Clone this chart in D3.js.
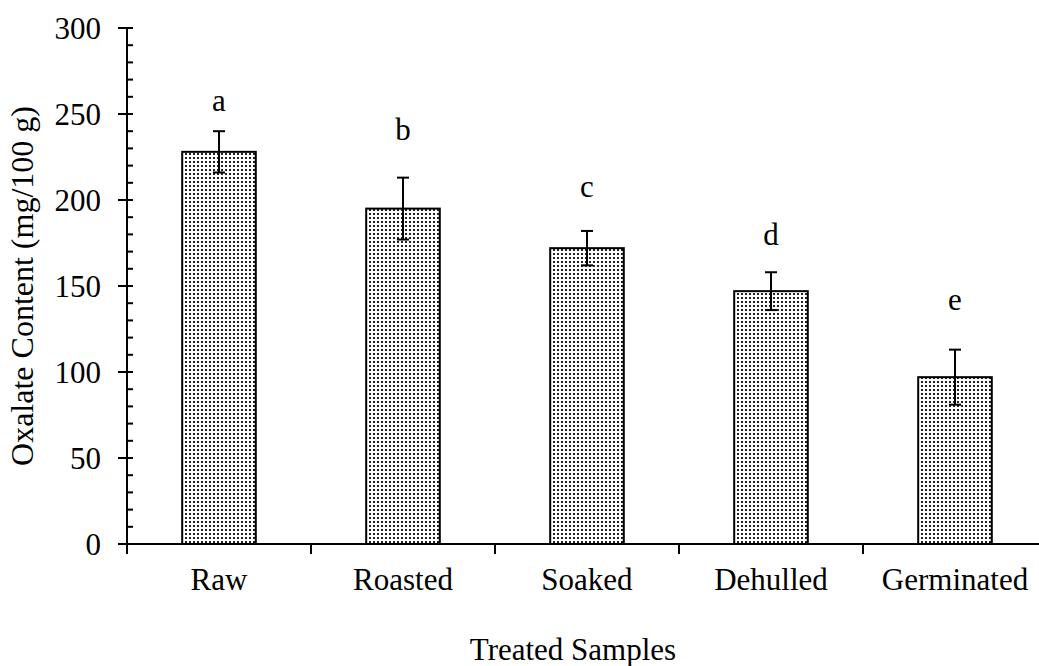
<!DOCTYPE html>
<html>
<head>
<meta charset="utf-8">
<script src="https://cdn.jsdelivr.net/npm/d3@7/dist/d3.min.js"></script>
<style>
  html, body { margin: 0; padding: 0; background: #fff; }
  svg { display: block; }
  text { font-family: "Liberation Serif", "Times New Roman", serif; fill: #000; }
</style>
</head>
<body>
<svg id="chart" width="1039" height="666"></svg>
<script>
// Oxalate content of treated samples (mg/100 g)
const categories = ["Raw", "Roasted", "Soaked", "Dehulled", "Germinated"];
const means = [228, 195, 172, 147, 97];
const errors = [12, 18, 10, 11, 16];
const letters = ["a", "b", "c", "d", "e"];
const letterLevels = [252, 235, 202, 174, 136];
const yTicks = [0, 50, 100, 150, 200, 250, 300];
const yMinorTicks = d3.range(0, 301, 10);

const svg = d3.select("#chart");
const margin = { left: 127, top: 28, bottom: 122 };
const height = 666;
const plotBottom = height - margin.bottom;
const fontSize = 31;

const x = d3.scaleBand()
  .domain(categories)
  .range([margin.left, margin.left + 920])
  .paddingInner(0.6)
  .paddingOuter(0.3);

const y = d3.scaleLinear().domain([0, 300]).range([plotBottom, margin.top]);

// dotted fill for the bars
const defs = svg.append("defs");
const pat = defs.append("pattern")
  .attr("id", "dots")
  .attr("patternUnits", "userSpaceOnUse")
  .attr("width", 4).attr("height", 4);
pat.append("rect").attr("width", 4).attr("height", 4).attr("fill", "#fff");
pat.append("rect").attr("x", 1).attr("y", 1).attr("width", 2).attr("height", 2).attr("fill", "#222");

// bars
svg.append("g").selectAll("rect")
  .data(categories)
  .join("rect")
  .attr("x", d => x(d))
  .attr("y", (d, i) => y(means[i]))
  .attr("width", x.bandwidth())
  .attr("height", (d, i) => y(0) - y(means[i]))
  .attr("fill", "url(#dots)")
  .attr("stroke", "#000")
  .attr("stroke-width", 2);

// error bars
const eb = svg.append("g").attr("stroke", "#000").attr("stroke-width", 2);
categories.forEach((c, i) => {
  const cx = x(c) + x.bandwidth() / 2;
  const hi = y(means[i] + errors[i]);
  const lo = y(means[i] - errors[i]);
  eb.append("line").attr("x1", cx).attr("x2", cx).attr("y1", hi).attr("y2", lo);
  eb.append("line").attr("x1", cx - 6).attr("x2", cx + 6).attr("y1", hi).attr("y2", hi);
  eb.append("line").attr("x1", cx - 6).attr("x2", cx + 6).attr("y1", lo).attr("y2", lo);
});

// significance letters
svg.append("g").selectAll("text")
  .data(categories)
  .join("text")
  .attr("x", d => x(d) + x.bandwidth() / 2)
  .attr("y", (d, i) => y(letterLevels[i]))
  .attr("text-anchor", "middle")
  .attr("font-size", fontSize)
  .text((d, i) => letters[i]);

// y axis
const ya = svg.append("g");
ya.append("line")
  .attr("x1", margin.left).attr("x2", margin.left)
  .attr("y1", y(300)).attr("y2", y(0))
  .attr("stroke", "#000").attr("stroke-width", 2);
ya.selectAll("line.minor")
  .data(yMinorTicks.filter(v => v % 50 !== 0))
  .join("line").attr("class", "minor")
  .attr("x1", margin.left).attr("x2", margin.left + 6)
  .attr("y1", d => y(d)).attr("y2", d => y(d))
  .attr("stroke", "#000").attr("stroke-width", 2);
ya.selectAll("line.major")
  .data(yTicks)
  .join("line").attr("class", "major")
  .attr("x1", margin.left - 9).attr("x2", margin.left + 6)
  .attr("y1", d => y(d)).attr("y2", d => y(d))
  .attr("stroke", "#000").attr("stroke-width", 2);
ya.selectAll("text")
  .data(yTicks)
  .join("text")
  .attr("x", margin.left - 26)
  .attr("y", d => y(d))
  .attr("dy", "0.35em")
  .attr("text-anchor", "end")
  .attr("font-size", fontSize)
  .text(d => d);

// x axis
const xa = svg.append("g");
xa.append("line")
  .attr("x1", margin.left - 9).attr("x2", 1039)
  .attr("y1", plotBottom).attr("y2", plotBottom)
  .attr("stroke", "#000").attr("stroke-width", 2);
const bounds = d3.range(categories.length + 1).map(i => margin.left + i * (x.range()[1] - x.range()[0]) / categories.length);
xa.selectAll("line.tick")
  .data(bounds)
  .join("line").attr("class", "tick")
  .attr("x1", d => d).attr("x2", d => d)
  .attr("y1", plotBottom).attr("y2", plotBottom + 10)
  .attr("stroke", "#000").attr("stroke-width", 2);
xa.selectAll("text")
  .data(categories)
  .join("text")
  .attr("x", d => x(d) + x.bandwidth() / 2)
  .attr("y", plotBottom + 46)
  .attr("text-anchor", "middle")
  .attr("font-size", fontSize)
  .text(d => d);

// axis titles
svg.append("text")
  .attr("x", 573).attr("y", 660)
  .attr("text-anchor", "middle")
  .attr("font-size", fontSize)
  .text("Treated Samples");

svg.append("text")
  .attr("transform", `translate(33, ${(y(0) + y(300)) / 2}) rotate(-90)`)
  .attr("text-anchor", "middle")
  .attr("font-size", 32)
  .text("Oxalate Content (mg/100 g)");
</script>
</body>
</html>
